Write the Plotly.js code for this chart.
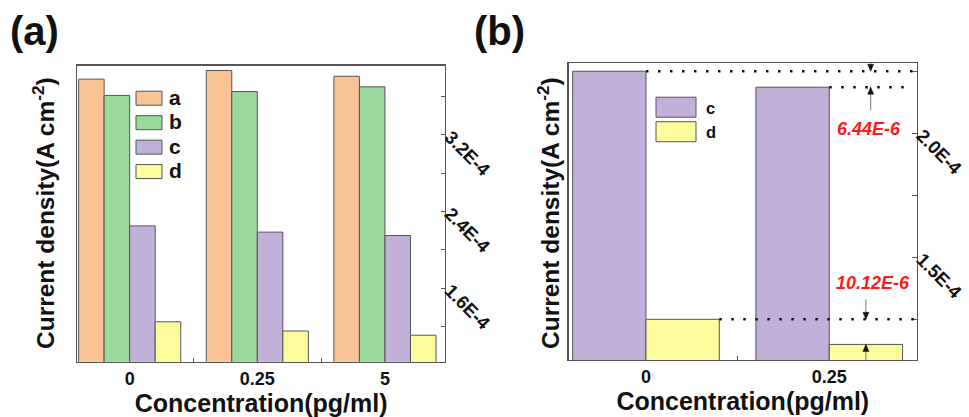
<!DOCTYPE html>
<html>
<head>
<meta charset="utf-8">
<script src="https://cdn.plot.ly/plotly-3.0.1.min.js"></script>
<style>html,body{margin:0;padding:0;background:#fff;}#chart{width:969px;height:417px;}</style>
</head>
<body>
<div id="chart"></div>
<script>
// ---- data ----
const categoriesA = ['0', '0.25', '5'];
const seriesA_a = [3.78e-4, 3.87e-4, 3.81e-4];
const seriesA_b = [3.61e-4, 3.65e-4, 3.70e-4];
const seriesA_c = [2.25e-4, 2.185e-4, 2.15e-4];
const seriesA_d = [1.25e-4, 1.154e-4, 1.11e-4];

const categoriesB = ['0', '0.25'];
const seriesB_c = [2.25e-4, 2.1856e-4];
const seriesB_d = [1.25e-4, 1.1488e-4];

const yTickValsA = [1.6e-4, 2.4e-4, 3.2e-4];
const yTickTextA = ['1.6E-4', '2.4E-4', '3.2E-4'];
const yMinorValsA = [1.2e-4, 2.0e-4, 2.8e-4, 3.6e-4];
const yTickValsB = [1.5e-4, 2.0e-4];
const yTickTextB = ['1.5E-4', '2.0E-4'];
const yMinorValsB = [1.25e-4, 1.75e-4, 2.25e-4];

const diffLabels = ['6.44E-6', '10.12E-6'];

const colors = {a: '#F9C393', b: '#9BD89B', c: '#C1B0D8', d: '#FCFC9C'};
const edge = {color: '#555555', width: 1};
const font = 'Liberation Sans, Arial, sans-serif';

function bar(x, y, name, col, xa, ya, legend) {
  return {type: 'bar', x: x, y: y, name: name, xaxis: xa, yaxis: ya, legend: legend,
          marker: {color: col, line: edge}, hoverinfo: 'skip'};
}

const traces = [
  bar(categoriesA, seriesA_a, 'a', colors.a, 'x', 'y', 'legend'),
  bar(categoriesA, seriesA_b, 'b', colors.b, 'x', 'y', 'legend'),
  bar(categoriesA, seriesA_c, 'c', colors.c, 'x', 'y', 'legend'),
  bar(categoriesA, seriesA_d, 'd', colors.d, 'x', 'y', 'legend'),
  bar(categoriesB, seriesB_c, 'c', colors.c, 'x2', 'y2', 'legend2'),
  bar(categoriesB, seriesB_d, 'd', colors.d, 'x2', 'y2', 'legend2')
];

const axLine = {showline: true, linecolor: '#555555', linewidth: 1.5, mirror: true, zeroline: false, showgrid: false};
const tickFont = {family: font, size: 18, color: '#111', weight: 'bold'};
const yTickFont = {family: font, size: 18.5, color: '#111', weight: 'bold'};
const titleFont = {family: font, size: 25, color: '#111', weight: 'bold'};

const xRangeB = [-0.42, 1.477];

// arrow helpers (positions in pixel offsets from a data anchor)
function shaft(x, yv, p0, p1) {
  return {type: 'line', xref: 'x2', yref: 'y2', x0: x, x1: x, ysizemode: 'pixel', yanchor: yv, y0: p0, y1: p1,
          line: {color: '#777', width: 1}};
}
function head(x, yv, dir) {
  const s = dir > 0 ? 'M0,0L-3,-7L3,-7Z' : 'M0,0L-3,7L3,7Z';
  return {type: 'path', xref: 'x2', yref: 'y2', xsizemode: 'pixel', xanchor: x, ysizemode: 'pixel', yanchor: yv,
          path: s, fillcolor: '#111', line: {color: '#111', width: 0.5}};
}
const dotLine = {color: '#111', width: 2.5, dash: '2.5px,9.5px'};

const layout = {
  width: 969, height: 417,
  margin: {l: 0, r: 0, t: 0, b: 0},
  paper_bgcolor: '#ffffff', plot_bgcolor: '#ffffff',
  barmode: 'group', bargap: 0.2, bargroupgap: 0,
  xaxis: Object.assign({}, axLine, {domain: [0.0798, 0.4592], anchor: 'y', type: 'category', range: [-0.41, 2.47],
    ticks: 'inside', tickson: 'boundaries', ticklen: 4, tickcolor: '#555', tickfont: tickFont,
    title: {text: 'Concentration(pg/ml)', font: titleFont, standoff: 2}}),
  yaxis: Object.assign({}, axLine, {domain: [0.1326, 0.8424], anchor: 'x', side: 'right', range: [0.834e-4, 3.92e-4],
    tickmode: 'array', tickvals: yTickValsA, ticktext: yTickTextA, ticks: 'inside', ticklen: 4, tickcolor: '#555',
    tickangle: 45, tickfont: yTickFont,
    minor: {tickmode: 'array', tickvals: yMinorValsA, ticks: 'inside', ticklen: 4, tickcolor: '#555'}}),
  xaxis2: Object.assign({}, axLine, {domain: [0.5872, 0.946], anchor: 'y2', type: 'category', range: xRangeB,
    ticks: 'inside', tickson: 'boundaries', ticklen: 4, tickcolor: '#555', tickfont: tickFont,
    title: {text: 'Concentration(pg/ml)', font: titleFont, standoff: 2}}),
  yaxis2: Object.assign({}, axLine, {domain: [0.1367, 0.8482], anchor: 'x2', side: 'right', range: [1.086e-4, 2.282e-4],
    tickmode: 'array', tickvals: yTickValsB, ticktext: yTickTextB, ticks: 'inside', ticklen: 5, tickcolor: '#555',
    tickangle: 45, tickfont: yTickFont,
    minor: {tickmode: 'array', tickvals: yMinorValsB, ticks: 'inside', ticklen: 5, tickcolor: '#555'}}),
  legend: {x: 129 / 969, y: 1 - 81 / 417, xanchor: 'left', yanchor: 'top', bgcolor: 'rgba(0,0,0,0)',
    font: {family: font, size: 16.5, color: '#111', weight: 'bold'}, itemwidth: 30, tracegroupgap: 0},
  legend2: {x: 646 / 969, y: 1 - 90 / 417, xanchor: 'left', yanchor: 'top', bgcolor: 'rgba(0,0,0,0)',
    font: {family: font, size: 16.5, color: '#111', weight: 'bold'}, itemwidth: 50, tracegroupgap: 0},
  showlegend: true,
  shapes: [
    {type: 'line', xref: 'x2', yref: 'y2', x0: 0, x1: xRangeB[1], y0: seriesB_c[0], y1: seriesB_c[0], line: dotLine},
    {type: 'line', xref: 'x2', yref: 'y2', x0: 1, x1: 1.43, y0: seriesB_c[1], y1: seriesB_c[1], line: dotLine},
    {type: 'line', xref: 'x2', yref: 'y2', x0: 0.4, x1: xRangeB[1], y0: seriesB_d[0], y1: seriesB_d[0], line: dotLine},
    shaft(1.226, seriesB_c[0], 25, 0), head(1.226, seriesB_c[0], -1),
    shaft(1.226, seriesB_c[1], 0, -23), head(1.226, seriesB_c[1], 1),
    shaft(1.2, seriesB_d[0], 20, 0), head(1.2, seriesB_d[0], -1),
    shaft(1.2, seriesB_d[1], 0, -24), head(1.2, seriesB_d[1], 1)
  ],
  annotations: [
    {text: '(a)', xref: 'paper', yref: 'paper', x: 8 / 969, y: 1 - 31 / 417, xanchor: 'left', yanchor: 'middle',
     showarrow: false, font: {family: font, size: 40, color: '#111', weight: 'bold'}},
    {text: '(b)', xref: 'paper', yref: 'paper', x: 472 / 969, y: 1 - 31 / 417, xanchor: 'left', yanchor: 'middle',
     showarrow: false, font: {family: font, size: 40, color: '#111', weight: 'bold'}},
    {text: 'Current density(A cm<sup>-2</sup>)', xref: 'paper', yref: 'paper', x: 43 / 969, y: 1 - 213 / 417,
     xanchor: 'center', yanchor: 'middle',
     textangle: -90, showarrow: false, font: {family: font, size: 24.5, color: '#111', weight: 'bold'}},
    {text: 'Current density(A cm<sup>-2</sup>)', xref: 'paper', yref: 'paper', x: 548 / 969, y: 1 - 213 / 417,
     xanchor: 'center', yanchor: 'middle',
     textangle: -90, showarrow: false, font: {family: font, size: 24.5, color: '#111', weight: 'bold'}},
    {text: '<i>' + diffLabels[0] + '</i>', xref: 'paper', yref: 'paper', x: 869 / 969, y: 1 - 129 / 417,
     xanchor: 'center', yanchor: 'middle',
     showarrow: false, font: {family: font, size: 18, color: '#FF1A1A', weight: 'bold'}},
    {text: '<i>' + diffLabels[1] + '</i>', xref: 'paper', yref: 'paper', x: 873 / 969, y: 1 - 283 / 417,
     xanchor: 'center', yanchor: 'middle',
     showarrow: false, font: {family: font, size: 18, color: '#FF1A1A', weight: 'bold'}}
  ]
};

Plotly.newPlot('chart', traces, layout, {displayModeBar: false, staticPlot: true}).then(function (gd) {
  gd.querySelectorAll('g.legend .legendpoints path').forEach(function (p) { p.setAttribute('d', 'M13,7H-13V-7H13Z'); });
  gd.querySelectorAll('g.legend2 .legendpoints path').forEach(function (p) { p.setAttribute('d', 'M20,10H-20V-10H20Z'); });
  gd.querySelectorAll('g.legend text.legendtext, g.legend2 text.legendtext').forEach(function (t) { t.style.fontSize = '21px'; });
});
</script>
</body>
</html>
